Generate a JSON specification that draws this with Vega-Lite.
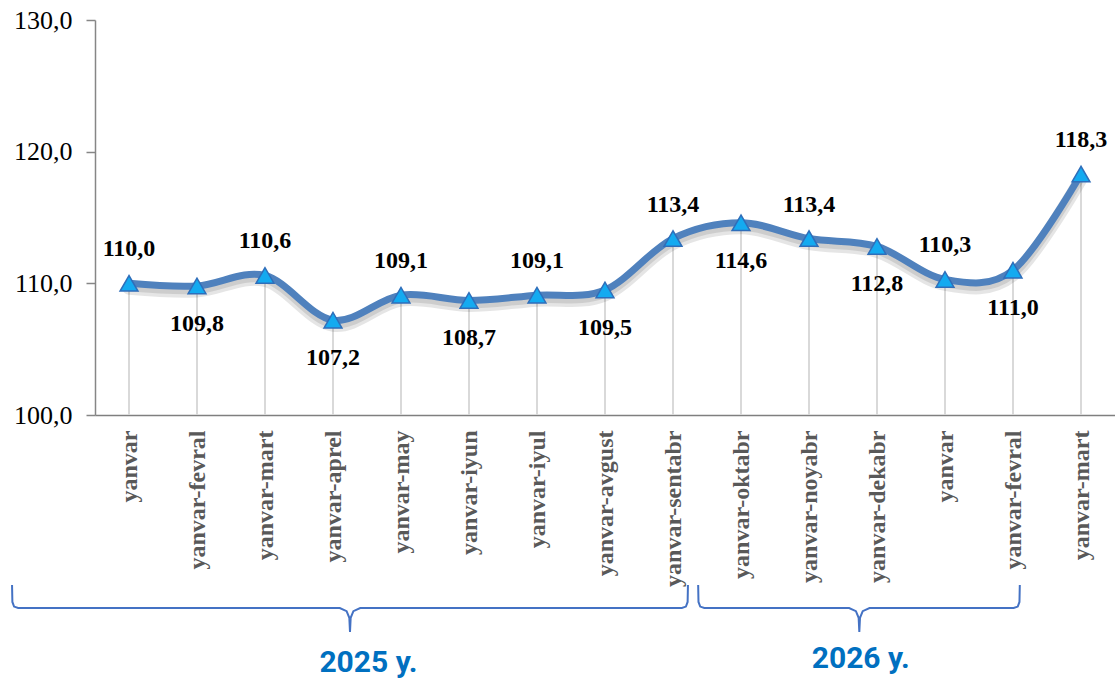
{
  "$schema": "https://vega.github.io/schema/vega-lite/v6.json",
  "autosize": {"type": "none"},
  "padding": {"left": 95, "top": 20, "right": 0, "bottom": 264},
  "width": 1020,
  "height": 395,
  "background": "white",
  "config": {
    "view": {"stroke": null},
    "locale": {"number": {"decimal": ",", "thousands": " ", "grouping": [3], "currency": ["", ""]}}
  },
  "resolve": {"scale": {"x": "independent"}},
  "layer": [
    {
      "data": {
        "values": [
          {"key": "2025|yanvar", "value": 110.0},
          {"key": "2025|yanvar-fevral", "value": 109.8},
          {"key": "2025|yanvar-mart", "value": 110.6},
          {"key": "2025|yanvar-aprel", "value": 107.2},
          {"key": "2025|yanvar-may", "value": 109.1},
          {"key": "2025|yanvar-iyun", "value": 108.7},
          {"key": "2025|yanvar-iyul", "value": 109.1},
          {"key": "2025|yanvar-avgust", "value": 109.5},
          {"key": "2025|yanvar-sentabr", "value": 113.4},
          {"key": "2025|yanvar-oktabr", "value": 114.6},
          {"key": "2025|yanvar-noyabr", "value": 113.4},
          {"key": "2025|yanvar-dekabr", "value": 112.8},
          {"key": "2026|yanvar", "value": 110.3},
          {"key": "2026|yanvar-fevral", "value": 111.0},
          {"key": "2026|yanvar-mart", "value": 118.3}
        ]
      },
      "encoding": {
        "x": {
          "field": "key", "type": "ordinal", "sort": null,
          "scale": {"type": "point", "padding": 0.5},
          "axis": {
            "title": null,
            "labelExpr": "split(datum.label, '|')[1]",
            "labelAngle": -90,
            "labelFont": "Liberation Serif",
            "labelFontWeight": "bold",
            "labelFontSize": 24,
            "labelColor": "#595959",
            "labelPadding": 15,
            "labelLimit": 300,
            "ticks": false,
            "domainColor": "#7F7F7F",
            "domainWidth": 1.5,
            "grid": false
          }
        },
        "y": {
          "field": "value", "type": "quantitative",
          "scale": {"domain": [100, 130], "nice": false, "zero": false},
          "axis": {
            "title": null,
            "values": [100, 110, 120, 130],
            "format": ".1f",
            "labelFont": "Liberation Serif",
            "labelFontSize": 26,
            "labelColor": "#000000",
            "labelPadding": 14,
            "tickSize": 9,
            "tickColor": "#868686",
            "tickWidth": 1.5,
            "domainColor": "#868686",
            "domainWidth": 1.5,
            "grid": false
          }
        }
      },
      "layer": [
        {
          "mark": {"type": "rule", "color": "#D9D9D9", "strokeWidth": 2},
          "encoding": {"y2": {"datum": 100}}
        },
        {
          "mark": {"type": "line", "interpolate": "cardinal", "stroke": "#000000", "strokeOpacity": 0.1, "strokeWidth": 13, "yOffset": 5, "strokeCap": "round"},
          "encoding": {}
        },
        {
          "mark": {"type": "line", "interpolate": "cardinal", "stroke": "#000000", "strokeOpacity": 0.1, "strokeWidth": 8, "yOffset": 4, "strokeCap": "round"},
          "encoding": {}
        },
        {
          "mark": {"type": "line", "interpolate": "cardinal", "stroke": "#4F81BD", "strokeWidth": 7, "strokeCap": "round"},
          "encoding": {}
        },
        {
          "mark": {"type": "point", "shape": "triangle-up", "filled": true, "fill": "#14AAF0", "stroke": "#2F6EBA", "strokeWidth": 1.5, "size": 320, "opacity": 1},
          "encoding": {}
        },
        {
          "transform": [
            {"window": [{"op": "row_number", "as": "rn"}]},
            {"filter": "datum.rn % 2 == 1"}
          ],
          "mark": {"type": "text", "font": "Liberation Serif", "fontWeight": "bold", "fontSize": 24, "color": "#000000", "baseline": "middle", "dy": -34},
          "encoding": {"text": {"field": "value", "type": "quantitative", "format": ".1f"}}
        },
        {
          "transform": [
            {"window": [{"op": "row_number", "as": "rn"}]},
            {"filter": "datum.rn % 2 == 0"}
          ],
          "mark": {"type": "text", "font": "Liberation Serif", "fontWeight": "bold", "fontSize": 24, "color": "#000000", "baseline": "middle", "dy": 38},
          "encoding": {"text": {"field": "value", "type": "quantitative", "format": ".1f"}}
        }
      ]
    },
    {
      "encoding": {
        "x": {"field": "bx", "type": "quantitative", "scale": {"domain": [-0.5, 14.5], "nice": false, "zero": false}, "axis": null},
        "y": {"field": "by", "type": "quantitative"}
      },
      "layer": [
        {
          "data": {
            "values": [
              {"g": "2025", "o": 1, "bx": -1.72, "by": 87.09},
              {"g": "2025", "o": 2, "bx": -1.715, "by": 85.8},
              {"g": "2025", "o": 3, "bx": -1.69, "by": 85.45},
              {"g": "2025", "o": 4, "bx": -1.63, "by": 85.34},
              {"g": "2025", "o": 5, "bx": 3.1, "by": 85.34},
              {"g": "2025", "o": 6, "bx": 3.2, "by": 85.1},
              {"g": "2025", "o": 7, "bx": 3.24, "by": 84.6},
              {"g": "2025", "o": 8, "bx": 3.25, "by": 83.52},
              {"g": "2025", "o": 9, "bx": 3.26, "by": 84.6},
              {"g": "2025", "o": 10, "bx": 3.3, "by": 85.1},
              {"g": "2025", "o": 11, "bx": 3.4, "by": 85.34},
              {"g": "2025", "o": 12, "bx": 8.13, "by": 85.34},
              {"g": "2025", "o": 13, "bx": 8.19, "by": 85.45},
              {"g": "2025", "o": 14, "bx": 8.215, "by": 85.8},
              {"g": "2025", "o": 15, "bx": 8.22, "by": 87.09},
              {"g": "2026", "o": 1, "bx": 8.37, "by": 87.09},
              {"g": "2026", "o": 2, "bx": 8.375, "by": 85.8},
              {"g": "2026", "o": 3, "bx": 8.4, "by": 85.45},
              {"g": "2026", "o": 4, "bx": 8.46, "by": 85.34},
              {"g": "2026", "o": 5, "bx": 10.59, "by": 85.34},
              {"g": "2026", "o": 6, "bx": 10.69, "by": 85.1},
              {"g": "2026", "o": 7, "bx": 10.73, "by": 84.6},
              {"g": "2026", "o": 8, "bx": 10.74, "by": 83.52},
              {"g": "2026", "o": 9, "bx": 10.75, "by": 84.6},
              {"g": "2026", "o": 10, "bx": 10.79, "by": 85.1},
              {"g": "2026", "o": 11, "bx": 10.89, "by": 85.34},
              {"g": "2026", "o": 12, "bx": 13.01, "by": 85.34},
              {"g": "2026", "o": 13, "bx": 13.07, "by": 85.45},
              {"g": "2026", "o": 14, "bx": 13.095, "by": 85.8},
              {"g": "2026", "o": 15, "bx": 13.1, "by": 87.09}
            ]
          },
          "mark": {"type": "line", "stroke": "#4472C4", "strokeWidth": 2, "clip": false},
          "encoding": {
            "detail": {"field": "g"},
            "order": {"field": "o", "type": "quantitative"}
          }
        },
        {
          "data": {
            "values": [
              {"label": "2025 y.", "bx": 3.52, "by": 81.2},
              {"label": "2026 y.", "bx": 10.76, "by": 81.45}
            ]
          },
          "mark": {"type": "text", "font": "Roboto", "fontWeight": "bold", "fontSize": 30, "color": "#0070C0", "baseline": "middle", "align": "center", "clip": false},
          "encoding": {"text": {"field": "label"}}
        }
      ]
    }
  ]
}
